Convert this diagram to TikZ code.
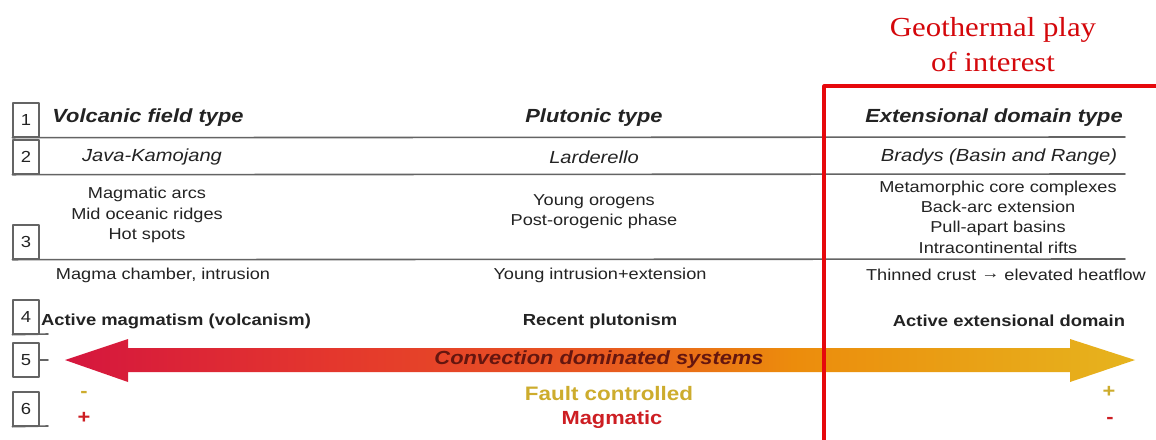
\documentclass[tikz,border=0pt]{standalone}
\usepackage{fontspec}
\newfontfamily\diagfont{Liberation Sans}[FakeStretch=1.15]
\newfontfamily\playfont{Liberation Serif}[FakeStretch=1.12]
\definecolor{txtgray}{RGB}{35,35,35}
\definecolor{linegray}{RGB}{100,100,100}
\definecolor{playred}{RGB}{230,8,12}
\definecolor{convA}{RGB}{213,22,62}
\definecolor{convB}{RGB}{228,55,45}
\definecolor{convC}{RGB}{232,88,32}
\definecolor{convD}{RGB}{236,140,12}
\definecolor{convE}{RGB}{230,180,30}
\definecolor{convtext}{RGB}{100,22,15}
\definecolor{faultgold}{RGB}{205,172,45}
\definecolor{magred}{RGB}{205,30,35}
\pgfdeclarehorizontalshading{convshade}{100bp}{color(0bp)=(convA); color(25bp)=(convA);
  color(37.5bp)=(convB); color(50bp)=(convC); color(59bp)=(convD); color(75bp)=(convE); color(100bp)=(convE)}
\tikzset{
  numbox/.style={draw=linegray,line width=1.4pt,minimum width=26pt,minimum height=34pt,
    inner sep=0pt,text=txtgray,font=\diagfont\fontsize{16}{18}\selectfont},
  rowline/.style={linegray,line width=1.6pt},
  head/.style={inner sep=0pt,text=txtgray,font=\diagfont\fontsize{19}{23}\selectfont\bfseries\itshape},
  site/.style={inner sep=0pt,text=txtgray,font=\diagfont\fontsize{17.5}{21}\selectfont\itshape},
  plain/.style={inner sep=0pt,text=txtgray,align=center,font=\diagfont\fontsize{15.8}{20.3}\selectfont},
  strong/.style={inner sep=0pt,text=txtgray,font=\diagfont\fontsize{16}{20}\selectfont\bfseries},
  sign/.style={inner sep=0pt,font=\diagfont\fontsize{19}{20}\selectfont\bfseries},
}
\begin{document}
\begin{tikzpicture}[x=1pt,y=-1pt,line cap=round,line join=round]
\useasboundingbox[fill=white] (0,0) rectangle (1156,439);

% row number boxes
\node[numbox] (n1) at (26,120) {1};
\node[numbox] (n2) at (26,157) {2};
\node[numbox] (n3) at (26,242) {3};
\node[numbox] (n4) at (26,317) {4};
\node[numbox] (n5) at (26,360) {5};
\node[numbox] (n6) at (26,409) {6};

\coordinate (r1) at (1125,137);
\coordinate (r2) at (1125,174);
\coordinate (r3) at (1125,259);
\coordinate (r4) at (48,334);
\coordinate (r5) at (48,360);
\coordinate (r6) at (48,426);
\draw[rowline] (n1.south west) -- (r1);
\draw[rowline] (n2.south west) -- (r2);
\draw[rowline] (n3.south west) -- (r3);
\draw[rowline] (n4.south west) -- (r4);
\draw[rowline] (n5.east) -- (r5);
\draw[rowline] (n6.south west) -- (r6);

% 1: play types
\node[head] (volc) at (148,118) {Volcanic field type};
\node[head] (plut) at (594,118) {Plutonic type};
\node[head] (ext)  at (994,118) {Extensional domain type};

% 2: examples
\node[site] (java) at (152,157) {Java-Kamojang};
\node[site] (lard) at (594,157) {Larderello};
\node[site] (brad) at (999,157) {Bradys (Basin and Range)};

% 3: settings
\node[plain] (volcset) at (147,215) {Magmatic arcs\\Mid oceanic ridges\\Hot spots};
\node[plain] (plutset) at (594,212) {Young orogens\\Post-orogenic phase};
\node[plain] (extset)  at (998,217) {Metamorphic core complexes\\Back-arc extension\\Pull-apart basins\\Intracontinental rifts};

\node[plain] (volcheat) at (163,275) {Magma chamber, intrusion};
\node[plain] (plutheat) at (600,275) {Young intrusion+extension};
\node[plain] (extheat)  at (1006,275) {Thinned crust \raisebox{2.5pt}{\bfseries →} elevated heatflow};

% 4: activity
\node[strong] (volcact) at (176,321) {Active magmatism (volcanism)};
\node[strong] (plutact) at (600,321) {Recent plutonism};
\node[strong] (extact)  at (1009,321) {Active extensional domain};

% 5: convection arrow
\shade[shading=convshade] (65,360) -- (128,339) -- (128,348) -- (1070,348) -- (1070,339)
  -- (1135,360) -- (1070,382) -- (1070,372) -- (128,372) -- (128,382) -- cycle;
\node[head,text=convtext] (conv) at (599,360) {Convection dominated systems};

% 6: controls
\node[head,font=\diagfont\fontsize{19.5}{22}\selectfont\bfseries,text=faultgold] (fault) at (609,394) {Fault controlled};
\node[head,font=\diagfont\fontsize{19}{22}\selectfont\bfseries,text=magred] (magm) at (612,420) {Magmatic};
\node[sign,text=faultgold] (fminus) at (84,394) {-};
\node[sign,text=magred] (mplus) at (84,418) {+};
\node[sign,text=faultgold] (fplus) at (1109,392) {+};
\node[sign,text=magred] (mminus) at (1110,420) {-};

% play of interest
\draw[playred,line width=3.2pt,line cap=butt] (824,442) -- (824,86) -- (1160,86);
\node[text=playred!92!black,align=center,inner sep=0pt,font=\playfont\fontsize{27.5}{35}\selectfont] (play) at (993,45) {Geothermal play\\of interest};
\end{tikzpicture}
\end{document}
